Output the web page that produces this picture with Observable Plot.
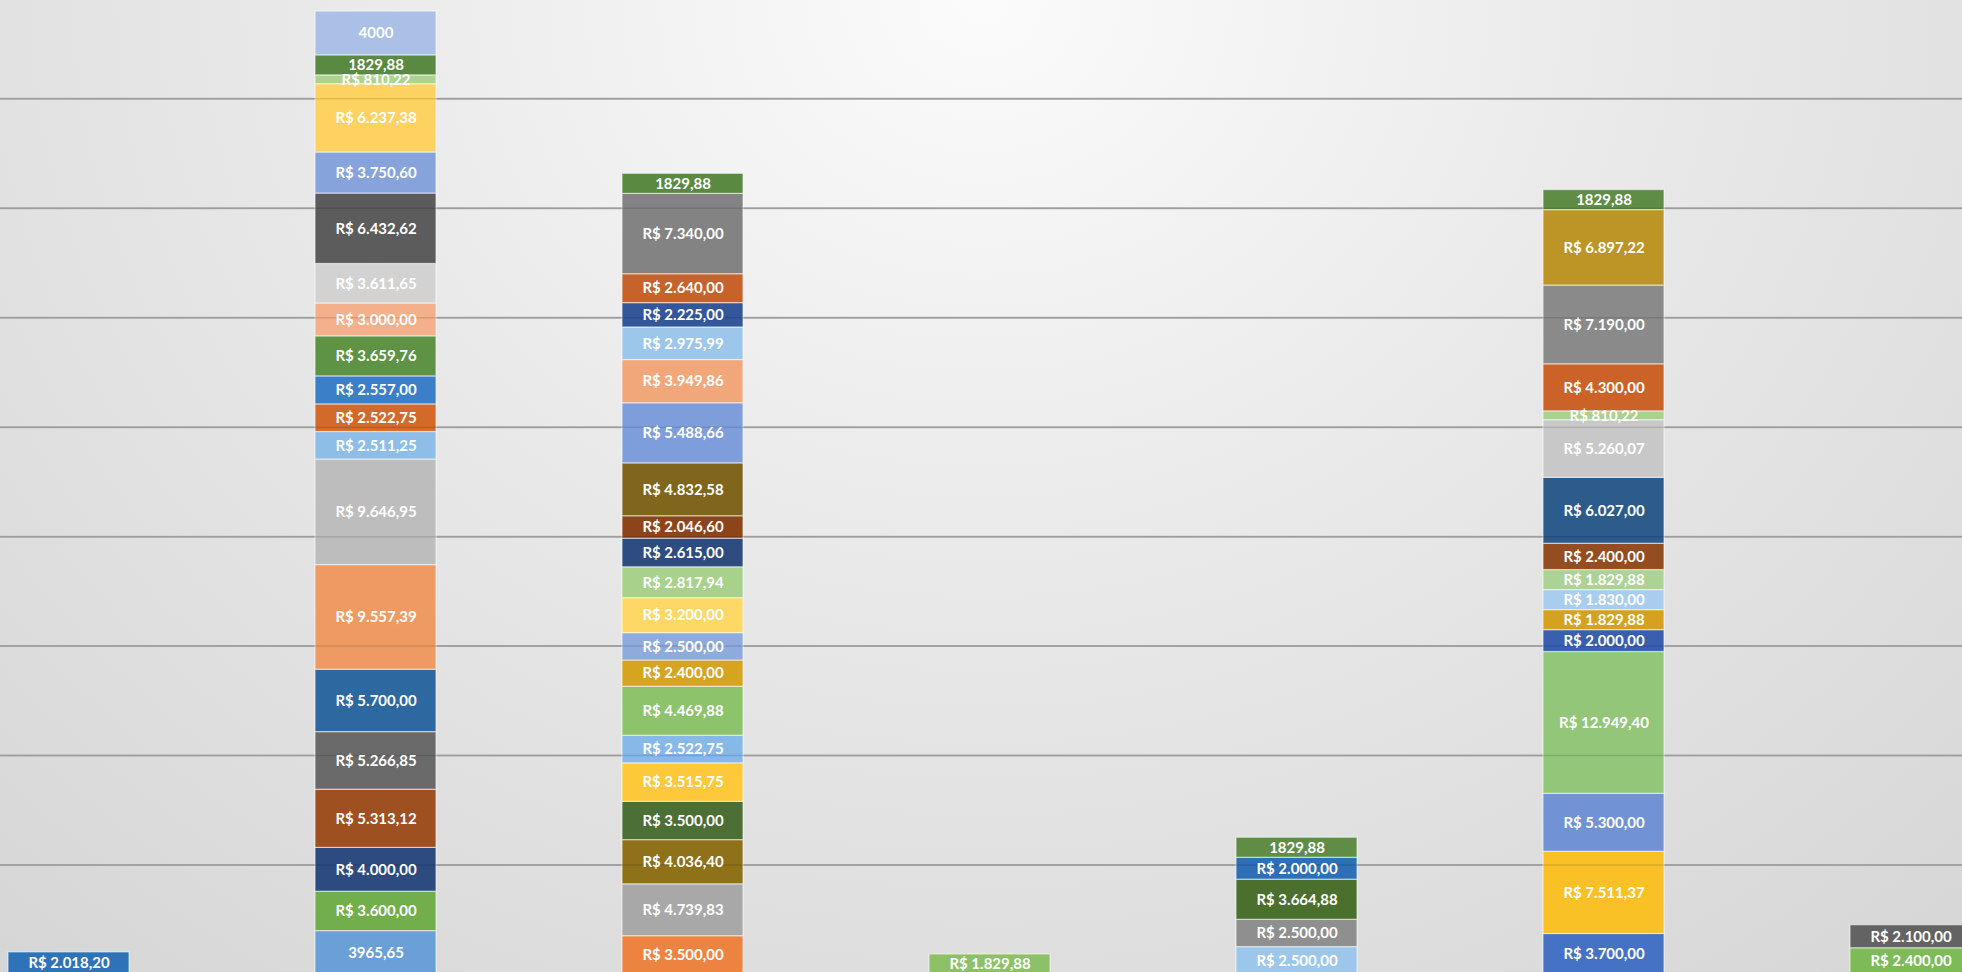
<!DOCTYPE html>
<html>
<head>
<meta charset="utf-8">
<script src="https://cdn.jsdelivr.net/npm/d3@7"></script>
<script src="https://cdn.jsdelivr.net/npm/@observablehq/plot@0.6"></script>
<style>
  html, body { margin: 0; padding: 0; }
  body {
    width: 1962px; height: 972px; overflow: hidden;
    background: radial-gradient(ellipse 75% 130% at 50% 0%, #fbfbfb 0%, #e9e9e9 45%, #d6d6d6 100%);
  }
  #chart svg { display: block; }
</style>
</head>
<body>
<div id="chart"></div>
<script>
// ---- Data (each column listed bottom -> top) ----
const columns = ["C1", "C2", "C3", "C4", "C5", "C6", "C7"];

const c1Values = [2018.20];
const c1Colors = ["#2e72b8"];
const c1Formats = ["R"];

const c2Values = [3965.65, 3600.00, 4000.00, 5313.12, 5266.85, 5700.00, 9557.39, 9646.95, 2511.25, 2522.75,
                  2557.00, 3659.76, 3000.00, 3611.65, 6432.62, 3750.60, 6237.38, 810.22, 1829.88, 4000];
const c2Colors = ["#6a9fd8", "#72ae4c", "#2d4b7f", "#9e5020", "#6a6a6a", "#2e68a0", "#f09a63", "#bdbdbd", "#8ebde8", "#d36a2a",
                  "#3a7fc8", "#5e9245", "#f4b08a", "#d2d2d2", "#5c5c5c", "#86a3dc", "#fed260", "#acd38f", "#5a8a41", "#aac0e6"];
const c2Formats = ["P", "R", "R", "R", "R", "R", "R", "R", "R", "R",
                   "R", "R", "R", "R", "R", "R", "R", "R", "P", "P"];

const c3Values = [3500.00, 4739.83, 4036.40, 3500.00, 3515.75, 2522.75, 4469.88, 2400.00, 2500.00, 3200.00,
                  2817.94, 2615.00, 2046.60, 4832.58, 5488.66, 3949.86, 2975.99, 2225.00, 2640.00, 7340.00, 1829.88];
const c3Colors = ["#ec8340", "#a8a8a8", "#8f7119", "#4b6f35", "#fdc83a", "#86b8e8", "#8dc36a", "#d6a421", "#8faadc", "#fed867",
                  "#a8d18b", "#2f4c80", "#8e4419", "#7f661c", "#7e9edb", "#f2a77b", "#9cc6ea", "#34579c", "#c6622a", "#838383", "#5a8a41"];
const c3Formats = ["R", "R", "R", "R", "R", "R", "R", "R", "R", "R",
                   "R", "R", "R", "R", "R", "R", "R", "R", "R", "R", "P"];

const c4Values = [1829.88];
const c4Colors = ["#8cc168"];
const c4Formats = ["R"];

const c5Values = [2500.00, 2500.00, 3664.88, 2000.00, 1829.88];
const c5Colors = ["#9cc6ea", "#8f8f8f", "#4b6f2d", "#2e70b6", "#5f8d46"];
const c5Formats = ["R", "R", "R", "R", "P"];

const c6Values = [3700.00, 7511.37, 5300.00, 12949.40, 2000.00, 1829.88, 1830.00, 1829.88, 2400.00, 6027.00,
                  5260.07, 810.22, 4300.00, 7190.00, 6897.22, 1829.88];
const c6Colors = ["#4572c4", "#f9c126", "#7193d5", "#93c678", "#3a5fae", "#d6a11e", "#a8cdef", "#acd393", "#944d21", "#2c5b8c",
                  "#c8c8c8", "#a9d18e", "#cb6228", "#8a8a8a", "#bd9527", "#5f8d46"];
const c6Formats = ["R", "R", "R", "R", "R", "R", "R", "R", "R", "R",
                   "R", "R", "R", "R", "R", "P"];

const c7Values = [2400.00, 2100.00];
const c7Colors = ["#7cbb56", "#636363"];
const c7Formats = ["R", "R"];

const gridValues = [10000, 20000, 30000, 40000, 50000, 60000, 70000, 80000];

// ---- Formatting ----
function brl(v) {
  const [i, d] = v.toFixed(2).split(".");
  return "R$ " + i.replace(/\B(?=(\d{3})+(?!\d))/g, ".") + "," + d;
}
function plain(v) {
  return Number.isInteger(v) ? String(v) : v.toFixed(2).replace(".", ",");
}

const series = [
  [c1Values, c1Colors, c1Formats],
  [c2Values, c2Colors, c2Formats],
  [c3Values, c3Colors, c3Formats],
  [c4Values, c4Colors, c4Formats],
  [c5Values, c5Colors, c5Formats],
  [c6Values, c6Colors, c6Formats],
  [c7Values, c7Colors, c7Formats]
];

const rows = series.flatMap(([vals, cols, fmts], i) =>
  vals.map((v, j) => ({
    col: columns[i],
    value: v,
    color: cols[j],
    label: fmts[j] === "P" ? plain(v) : brl(v)
  }))
);

const chart = Plot.plot({
  width: 1962,
  height: 972,
  marginTop: 0, marginRight: 0, marginBottom: 0, marginLeft: 0,
  style: { background: "transparent", fontFamily: "Lato, sans-serif", overflow: "hidden" },
  x: { type: "band", domain: columns, range: [-85.5, 2063.5], paddingInner: 0.606, paddingOuter: 0.303, axis: null },
  y: { domain: [0, 88982], range: [974, 0], axis: null },
  color: { type: "identity" },
  marks: [
    Plot.ruleY(gridValues, { stroke: "#b3b3b3", strokeWidth: 2 }),
    Plot.barY(rows, { x: "col", y: "value", fill: "color", stroke: "#ffffff", strokeOpacity: 0.55, strokeWidth: 1.2 }),
    Plot.ruleY(gridValues, { stroke: "#000000", strokeOpacity: 0.12, strokeWidth: 1.5 }),
    Plot.text(rows, Plot.stackY({
      x: "col", y: "value", text: "label",
      fill: "#ffffff", fontSize: 15, fontWeight: "bold", fontFamily: "Lato, sans-serif"
    }))
  ]
});

document.getElementById("chart").appendChild(chart);
</script>
</body>
</html>
